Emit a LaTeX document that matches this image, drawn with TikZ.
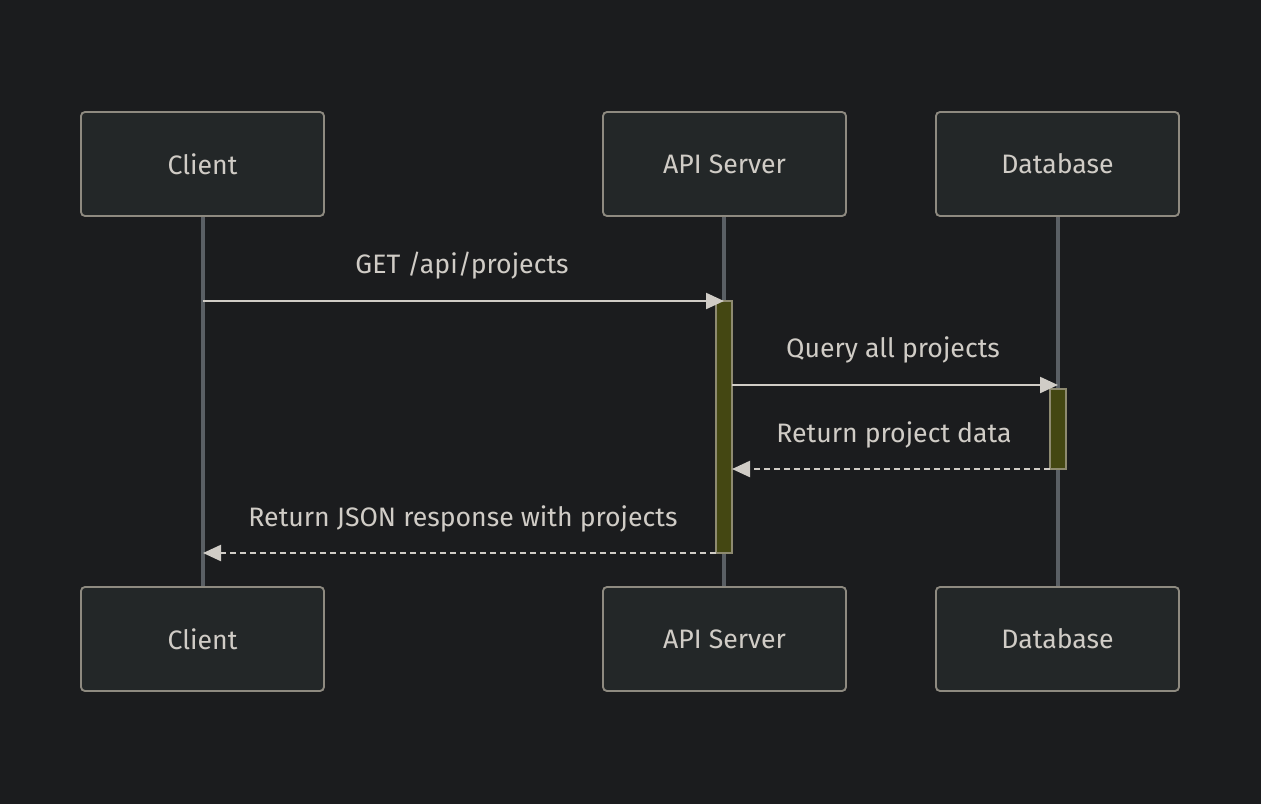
\documentclass[tikz,border=0pt]{standalone}
\usepackage{fontspec}
\setmainfont{Fira Sans}
\usetikzlibrary{arrows.meta}
\definecolor{bg}{HTML}{1B1C1E}
\definecolor{boxfill}{HTML}{232728}
\definecolor{boxline}{HTML}{8E8A80}
\definecolor{txt}{HTML}{D0CCC6}
\definecolor{life}{HTML}{5A5F64}
\definecolor{actfill}{HTML}{444712}
\definecolor{actline}{HTML}{8E8A70}
\tikzset{
  actor/.style={draw=boxline, line width=1.4pt, fill=boxfill, rounded corners=3pt,
    minimum width=182.25pt, minimum height=78pt, inner sep=0pt,
    text=txt, font=\fontsize{20pt}{24pt}\selectfont},
  lifeline/.style={draw=life, line width=2.4pt},
  actbox/.style={draw=actline, line width=1pt, fill=actfill, inner sep=0pt, minimum width=12pt},
  msg/.style={draw=txt, line width=1.7pt, -{Triangle[length=13.5pt,width=12pt]}},
  reply/.style={msg, dash pattern=on 4.5pt off 3pt},
  lbl/.style={text=txt, font=\fontsize{20pt}{24pt}\selectfont, inner sep=0pt}
}
\begin{document}
\begin{tikzpicture}[x=0.75pt,y=-0.75pt]
\fill[bg] (0,0) rectangle (1261,804);
\useasboundingbox (0,0) rectangle (1261,804);
% lifelines
\coordinate (cl) at (203,216); \coordinate (clb) at (203,587);
\coordinate (al) at (724,216); \coordinate (alb) at (724,587);
\coordinate (dl) at (1058,216); \coordinate (dlb) at (1058,587);
\draw[lifeline] (cl) -- (clb);
\draw[lifeline] (al) -- (alb);
\draw[lifeline] (dl) -- (dlb);
% actors
\node[actor] (client) at (202.5,164) {Client};
\node[actor] (api) at (724.5,164) {API Server};
\node[actor] (db) at (1057.5,164) {Database};
\node[actor] (client2) at (202.5,639) {Client};
\node[actor] (api2) at (724.5,639) {API Server};
\node[actor] (db2) at (1057.5,639) {Database};
% activations
\node[actbox, minimum height=189pt] (act1) at (724,427) {};
\node[actbox, minimum height=60pt] (act2) at (1058,429) {};
% messages
\coordinate (m1s) at (203,301);
\coordinate (m1e) at (724,301);
\draw[msg] (m1s) -- (m1e);
\node[lbl] (l1) at (462,266) {GET /api/projects};
\coordinate (m2s) at (732,385);
\coordinate (m2e) at (1058,385);
\draw[msg] (m2s) -- (m2e);
\node[lbl] (l2) at (893,350) {Query all projects};
\coordinate (m3s) at (1050,469);
\coordinate (m3e) at (732,469);
\draw[reply] (m3s) -- (m3e);
\node[lbl] (l3) at (894,435) {Return project data};
\coordinate (m4s) at (716,553);
\coordinate (m4e) at (203,553);
\draw[reply] (m4s) -- (m4e);
\node[lbl] (l4) at (463,519) {Return JSON response with projects};
\end{tikzpicture}
\end{document}
